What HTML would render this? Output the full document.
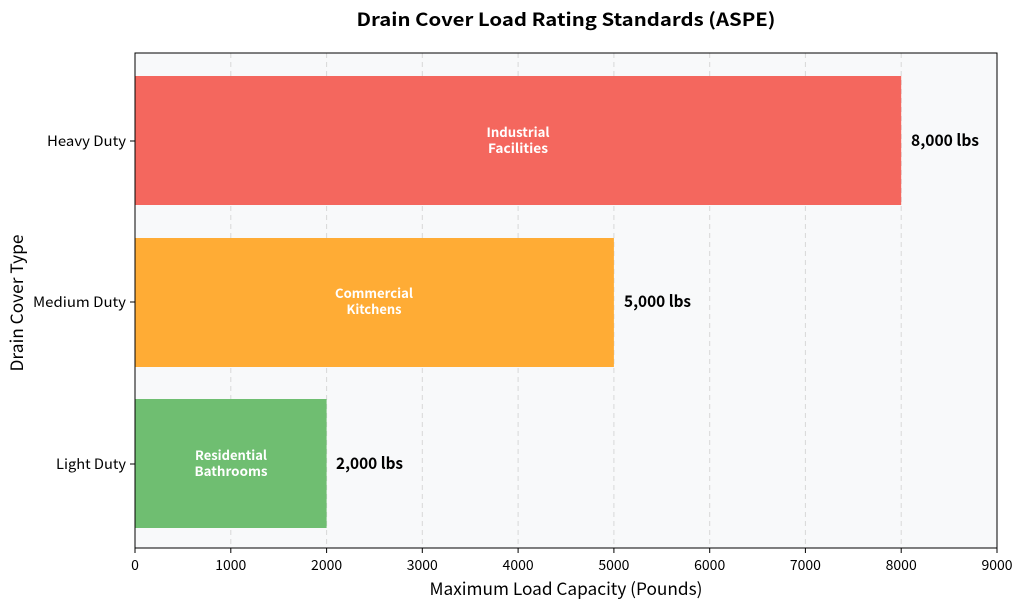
<!DOCTYPE html>
<html><head><meta charset="utf-8"><style>
body{margin:0;background:#fff;}
svg{display:block;font-family:"Noto Sans CJK JP","Liberation Sans",sans-serif;}
</style></head><body>
<svg width="1024" height="609" viewBox="0 0 1024 609">
<rect width="1024" height="609" fill="#fff"/>
<rect x="135" y="53" width="862" height="495" fill="#f8f9fa"/>
<g stroke="#d8d8d8" stroke-dasharray="5,4" stroke-width="1">
<line x1="230.8" y1="53" x2="230.8" y2="548"/>
<line x1="326.6" y1="53" x2="326.6" y2="548"/>
<line x1="422.3" y1="53" x2="422.3" y2="548"/>
<line x1="518.1" y1="53" x2="518.1" y2="548"/>
<line x1="613.9" y1="53" x2="613.9" y2="548"/>
<line x1="709.7" y1="53" x2="709.7" y2="548"/>
<line x1="805.4" y1="53" x2="805.4" y2="548"/>
<line x1="901.2" y1="53" x2="901.2" y2="548"/>
</g>
<rect x="135" y="76" width="766.2" height="129" fill="#f4675e"/>
<rect x="135" y="238" width="478.9" height="129" fill="#ffac35"/>
<rect x="135" y="399" width="191.6" height="129" fill="#6fbe71"/>
<g fill="#fff" font-size="13" font-weight="bold" text-anchor="middle" lengthAdjust="spacingAndGlyphs">
<text x="518" y="137" textLength="63" lengthAdjust="spacingAndGlyphs">Industrial</text><text x="518" y="153" textLength="60" lengthAdjust="spacingAndGlyphs">Facilities</text>
<text x="374" y="298" textLength="78" lengthAdjust="spacingAndGlyphs">Commercial</text><text x="374" y="314" textLength="55" lengthAdjust="spacingAndGlyphs">Kitchens</text>
<text x="231" y="460" textLength="72" lengthAdjust="spacingAndGlyphs">Residential</text><text x="231" y="476" textLength="73" lengthAdjust="spacingAndGlyphs">Bathrooms</text>
</g>
<g font-size="16" font-weight="bold" fill="#000">
<text x="911" y="146" textLength="68" lengthAdjust="spacingAndGlyphs">8,000 lbs</text>
<text x="624" y="307" textLength="67" lengthAdjust="spacingAndGlyphs">5,000 lbs</text>
<text x="336" y="469" textLength="67" lengthAdjust="spacingAndGlyphs">2,000 lbs</text>
</g>
<rect x="135" y="53" width="862" height="495" fill="none" stroke="#000" stroke-width="1"/>
<g stroke="#000"><line x1="130" y1="141" x2="135" y2="141"/><line x1="130" y1="302" x2="135" y2="302"/><line x1="130" y1="464" x2="135" y2="464"/></g>
<g font-size="14" fill="#000">
<text x="47" y="146" textLength="79" lengthAdjust="spacingAndGlyphs">Heavy Duty</text>
<text x="33" y="307" textLength="93" lengthAdjust="spacingAndGlyphs">Medium Duty</text>
<text x="56" y="469" textLength="70" lengthAdjust="spacingAndGlyphs">Light Duty</text>
</g>
<g stroke="#000">
<line x1="135" y1="548" x2="135" y2="553"/><line x1="230.8" y1="548" x2="230.8" y2="553"/><line x1="326.6" y1="548" x2="326.6" y2="553"/><line x1="422.3" y1="548" x2="422.3" y2="553"/><line x1="518.1" y1="548" x2="518.1" y2="553"/><line x1="613.9" y1="548" x2="613.9" y2="553"/><line x1="709.7" y1="548" x2="709.7" y2="553"/><line x1="805.4" y1="548" x2="805.4" y2="553"/><line x1="901.2" y1="548" x2="901.2" y2="553"/><line x1="997" y1="548" x2="997" y2="553"/>
</g>
<g font-size="14" text-anchor="middle" fill="#000">
<text x="135" y="570">0</text><text x="230.8" y="570">1000</text><text x="326.6" y="570">2000</text><text x="422.3" y="570">3000</text><text x="518.1" y="570">4000</text><text x="613.9" y="570">5000</text><text x="709.7" y="570">6000</text><text x="805.4" y="570">7000</text><text x="901.2" y="570">8000</text><text x="997" y="570">9000</text>
</g>
<text x="566" y="595" font-size="17" text-anchor="middle" textLength="273" lengthAdjust="spacingAndGlyphs">Maximum Load Capacity (Pounds)</text>
<text transform="translate(23,303) rotate(-90)" font-size="17" text-anchor="middle" textLength="137" lengthAdjust="spacingAndGlyphs">Drain Cover Type</text>
<text x="566" y="26" font-size="18" font-weight="bold" text-anchor="middle" textLength="419" lengthAdjust="spacingAndGlyphs">Drain Cover Load Rating Standards (ASPE)</text>
</svg>
</body></html>
